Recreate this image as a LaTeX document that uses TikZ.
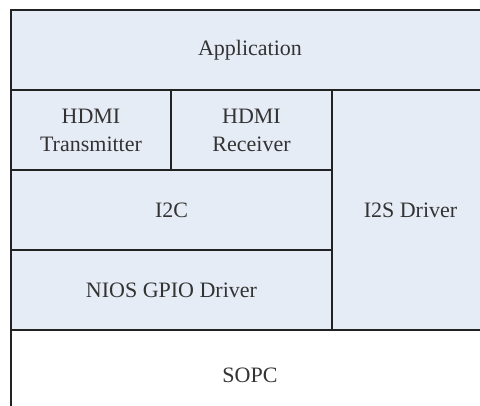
\documentclass[tikz,border=0pt]{standalone}
\usepackage{fontspec}
\setmainfont{Liberation Serif}
\usepackage{tikz}
\definecolor{layerblue}{RGB}{230,236,246}
\definecolor{layerline}{RGB}{34,34,34}

\begin{document}
\begin{tikzpicture}[x=1pt, y=-1pt,
	layer/.style={draw=layerline, line width=1.6pt, fill=layerblue, rectangle, inner sep=0pt,
		align=center, text=black!80, font=\fontsize{22}{28}\selectfont},
	base/.style={layer, fill=white}]
		%%%%% START %%%%%
		
		\useasboundingbox (0, 0) rectangle (480, 405);
		\clip (0, 0) rectangle (480, 405);
		
		\node[layer, minimum width=478pt, minimum height=80pt] (app) at (250, 50) {Application};
		
		\node[layer, minimum width=160pt, minimum height=80pt] (hdmitx) at (91, 130) {HDMI\\Transmitter};
		\node[layer, minimum width=161pt, minimum height=80pt] (hdmirx) at (251.5, 130) {HDMI\\Receiver};
		
		\node[layer, minimum width=321pt, minimum height=80pt] (itwoc) at (171.5, 210) {I2C};
		\node[layer, minimum width=321pt, minimum height=80pt] (gpio) at (171.5, 290) {NIOS GPIO Driver};
		
		\node[layer, minimum width=157pt, minimum height=240pt] (itwos) at (410.5, 210) {I2S Driver};
		
		\node[base, minimum width=478pt, minimum height=90pt] (sopc) at (250, 375) {SOPC};
		
		%%%%% END %%%%%
	\end{tikzpicture}
\end{document}
